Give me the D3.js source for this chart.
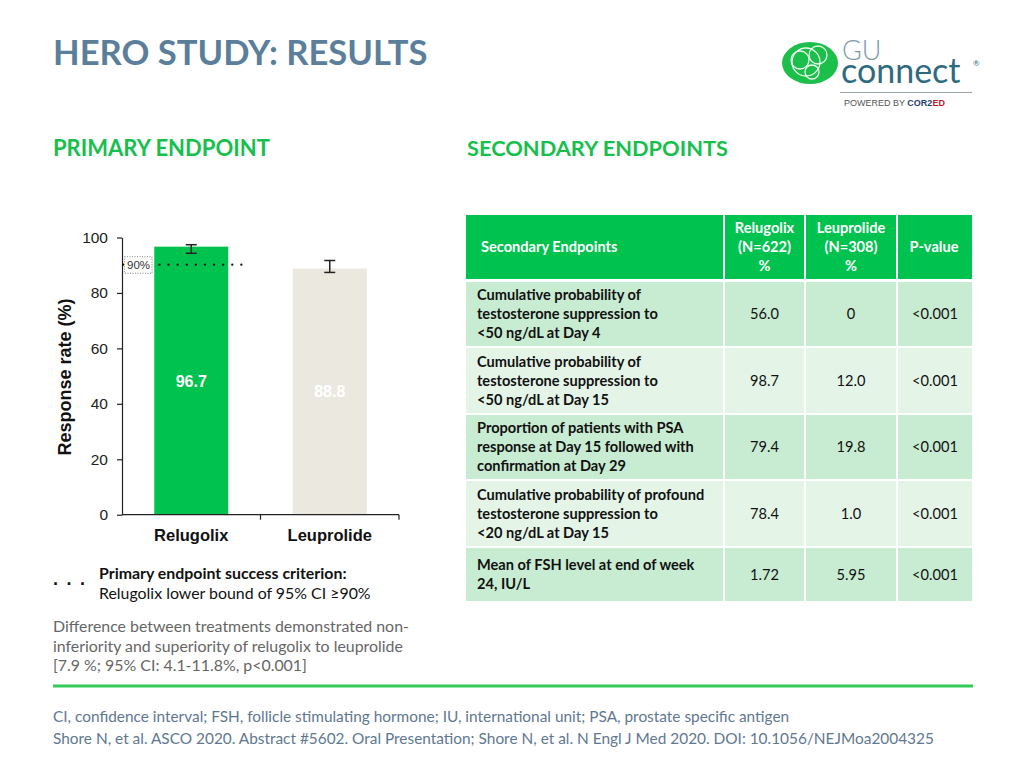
<!DOCTYPE html>
<html>
<head>
<meta charset="utf-8">
<script src="https://cdn.jsdelivr.net/npm/d3@7"></script>
<style>
  html, body { margin: 0; padding: 0; background: #ffffff; }
  svg { display: block; }
</style>
</head>
<body>
<svg id="chart" width="1024" height="768"></svg>
<script>
// ---------------- DATA ----------------
const categories = ["Relugolix", "Leuprolide"];
const responseRates = [96.7, 88.8];
const ciLower = [94.3, 87.4];
const ciUpper = [97.4, 91.7];
const valueLabels = ["96.7", "88.8"];
const yTicks = [0, 20, 40, 60, 80, 100];
const thresholdValue = 90;
const thresholdLabel = "90%";

const tableHeader = [["Secondary Endpoints"], ["Relugolix", "(N=622)", "%"], ["Leuprolide", "(N=308)", "%"], ["P-value"]];
const endpointLabels = [
  ["Cumulative probability of", "testosterone suppression to", "<50 ng/dL at Day 4"],
  ["Cumulative probability of", "testosterone suppression to", "<50 ng/dL at Day 15"],
  ["Proportion of patients with PSA", "response at Day 15 followed with", "confirmation at Day 29"],
  ["Cumulative probability of profound", "testosterone suppression to", "<20 ng/dL at Day 15"],
  ["Mean of FSH level at end of week", "24, IU/L"]
];
const relugolixValues = ["56.0", "98.7", "79.4", "78.4", "1.72"];
const leuprolideValues = ["0", "12.0", "19.8", "1.0", "5.95"];
const pValues = ["<0.001", "<0.001", "<0.001", "<0.001", "<0.001"];

// ---------------- STYLE ----------------
const GREEN = "#00c24f";
const BEIGE = "#ebe9df";
const TITLE_BLUE = "#5b7f9b";
const SANS = "Lato, 'Open Sans', sans-serif";
const ARIAL = "'Liberation Sans', Arial, sans-serif";

const svg = d3.select("#chart");

// ---------------- TITLES ----------------
svg.append("text").attr("x", 53).attr("y", 65)
  .attr("font-family", SANS).attr("font-weight", 700).attr("font-size", 34.6)
  .attr("fill", TITLE_BLUE).text("HERO STUDY: RESULTS");

svg.append("text").attr("x", 53).attr("y", 156)
  .attr("font-family", SANS).attr("font-weight", 700).attr("font-size", 22)
  .attr("fill", "#17c04c").text("PRIMARY ENDPOINT");
svg.append("text").attr("x", 467).attr("y", 156)
  .attr("font-family", SANS).attr("font-weight", 700).attr("font-size", 21.8)
  .attr("fill", "#17c04c").text("SECONDARY ENDPOINTS");

// ---------------- LOGO ----------------
const logo = svg.append("g");
logo.append("ellipse").attr("cx", 810).attr("cy", 63).attr("rx", 28).attr("ry", 21).attr("fill", "#1dbf4b");
[[800, 60, 9], [818, 55, 9], [812, 72, 7], [806, 62, 14]].forEach(c => {
  logo.append("circle").attr("cx", c[0]).attr("cy", c[1]).attr("r", c[2])
    .attr("fill", "none").attr("stroke", "#ffffff").attr("stroke-width", 1.3).attr("opacity", 0.9);
});
const brand = logo.append("text").attr("font-family", SANS);
brand.append("tspan").attr("x", 842).attr("y", 60).attr("font-weight", 300)
  .attr("font-size", 27).attr("fill", "#7d9aa9").text("GU");
brand.append("tspan").attr("x", 841).attr("y", 83).attr("font-weight", 400)
  .attr("font-size", 34).attr("fill", "#2f6b80").text("connect");
brand.append("tspan").attr("x", 973).attr("y", 66)
  .attr("font-size", 8).attr("fill", "#2f6b80").text("®");
logo.append("line").attr("x1", 840).attr("x2", 972).attr("y1", 92.5).attr("y2", 92.5)
  .attr("stroke", "#9aa3a8").attr("stroke-width", 1);
const pw = logo.append("text").attr("x", 844).attr("y", 106).attr("font-family", ARIAL).attr("font-size", 9);
pw.append("tspan").attr("fill", "#555").text("POWERED BY ");
pw.append("tspan").attr("fill", "#1f3f73").attr("font-weight", 700).text("COR2");
pw.append("tspan").attr("fill", "#c8192e").attr("font-weight", 700).text("ED");

// ---------------- BAR CHART ----------------
const y = d3.scaleLinear().domain([0, 100]).range([514.7, 237.5]);
const x = d3.scaleBand().domain(categories).range([122, 399]).paddingInner(0).paddingOuter(0);
const barW = x.bandwidth() * 0.534;
const colors = d3.scaleOrdinal().domain(categories).range([GREEN, BEIGE]);

const chart = svg.append("g");

// bars
chart.selectAll("rect.bar").data(categories).enter().append("rect")
  .attr("class", "bar")
  .attr("x", d => x(d) + (x.bandwidth() - barW) / 2)
  .attr("width", barW)
  .attr("y", (d, i) => y(responseRates[i]))
  .attr("height", (d, i) => y(0) - y(responseRates[i]))
  .attr("fill", d => colors(d));

// y axis
const yAxis = d3.axisLeft(y).tickValues(yTicks).tickSize(5).tickSizeOuter(0).tickPadding(9);
const yg = chart.append("g").attr("transform", "translate(122,0)").call(yAxis);
yg.select(".domain").attr("stroke", "#222").attr("stroke-width", 1.2);
yg.selectAll(".tick line").attr("stroke", "#222").attr("stroke-width", 1.2);
yg.selectAll(".tick text").attr("font-family", ARIAL).attr("font-size", 15.5).attr("fill", "#222");

// x axis
const xg = chart.append("g");
xg.append("line").attr("x1", 122).attr("x2", 399).attr("y1", y(0)).attr("y2", y(0))
  .attr("stroke", "#222").attr("stroke-width", 1.2);
const bounds = categories.map(c => x(c) + x.bandwidth());
xg.selectAll("line.xt").data(bounds).enter().append("line").attr("class", "xt")
  .attr("x1", d => d).attr("x2", d => d).attr("y1", y(0)).attr("y2", y(0) + 5)
  .attr("stroke", "#222").attr("stroke-width", 1.2);
xg.selectAll("text.xl").data(categories).enter().append("text").attr("class", "xl")
  .attr("x", d => x(d) + x.bandwidth() / 2).attr("y", 541)
  .attr("text-anchor", "middle").attr("font-family", ARIAL).attr("font-weight", 700)
  .attr("font-size", 16.5).attr("fill", "#111").text(d => d);

// y axis title
chart.append("text").attr("transform", "translate(71,377) rotate(-90)")
  .attr("text-anchor", "middle").attr("font-family", ARIAL).attr("font-weight", 700)
  .attr("font-size", 18).attr("fill", "#111").text("Response rate (%)");

// value labels
chart.selectAll("text.val").data(categories).enter().append("text").attr("class", "val")
  .attr("x", d => x(d) + x.bandwidth() / 2)
  .attr("y", (d, i) => i === 0 ? 387 : 397)
  .attr("text-anchor", "middle").attr("font-family", ARIAL).attr("font-weight", 700)
  .attr("font-size", 16).attr("fill", "#ffffff").text((d, i) => valueLabels[i]);

// error bars
const eb = chart.selectAll("g.eb").data(categories).enter().append("g").attr("class", "eb");
const cx = d => x(d) + x.bandwidth() / 2;
eb.append("line").attr("x1", cx).attr("x2", cx)
  .attr("y1", (d, i) => y(ciUpper[i])).attr("y2", (d, i) => y(ciLower[i]))
  .attr("stroke", "#222").attr("stroke-width", 1.5);
eb.append("line").attr("x1", d => cx(d) - 5.5).attr("x2", d => cx(d) + 5.5)
  .attr("y1", (d, i) => y(ciUpper[i])).attr("y2", (d, i) => y(ciUpper[i]))
  .attr("stroke", "#222").attr("stroke-width", 1.5);
eb.append("line").attr("x1", d => cx(d) - 5.5).attr("x2", d => cx(d) + 5.5)
  .attr("y1", (d, i) => y(ciLower[i])).attr("y2", (d, i) => y(ciLower[i]))
  .attr("stroke", "#222").attr("stroke-width", 1.5);

// threshold dotted line
chart.append("line").attr("x1", 123).attr("x2", 244)
  .attr("y1", y(thresholdValue) - 0.5).attr("y2", y(thresholdValue) - 0.5)
  .attr("stroke", "#111").attr("stroke-width", 2.2).attr("stroke-linecap", "round")
  .attr("stroke-dasharray", "0.1 9");
chart.append("rect").attr("x", 124.5).attr("y", y(thresholdValue) - 8.5).attr("width", 27.5).attr("height", 16.5)
  .attr("fill", "#ffffff").attr("stroke", "#666").attr("stroke-width", 0.8).attr("stroke-dasharray", "1 1.5");
chart.append("text").attr("x", 138.5).attr("y", y(thresholdValue) + 4)
  .attr("text-anchor", "middle").attr("font-family", ARIAL).attr("font-size", 11.5)
  .attr("fill", "#333").text(thresholdLabel);

// ---------------- NOTES ----------------
svg.append("text").attr("x", 53).attr("y", 585).attr("font-family", ARIAL).attr("font-weight", 700)
  .attr("font-size", 18).attr("letter-spacing", 8.5).attr("fill", "#111").text("...");
svg.append("text").attr("x", 99).attr("y", 579).attr("font-family", SANS).attr("font-weight", 700)
  .attr("font-size", 15.9).attr("fill", "#111").text("Primary endpoint success criterion:");
svg.append("text").attr("x", 99).attr("y", 599).attr("font-family", SANS)
  .attr("font-size", 15.9).attr("fill", "#111").text("Relugolix lower bound of 95% CI ≥90%");
["Difference between treatments demonstrated non-",
 "inferiority and superiority of relugolix to leuprolide",
 "[7.9 %; 95% CI: 4.1-11.8%, p<0.001]"].forEach((t, i) => {
  svg.append("text").attr("x", 53).attr("y", 632 + i * 19.5).attr("font-family", SANS)
    .attr("font-size", 15.9).attr("fill", "#666").text(t);
});

// ---------------- TABLE ----------------
const colX = [466, 725, 806, 898, 972];
const headerTop = 215, headerBottom = 279;
const rowTops = [282, 348, 415, 481, 548];
const rowBottoms = [346, 413, 479, 546, 601];
const rowFill = ["#c8ecd2", "#e4f5e8", "#c8ecd2", "#e4f5e8", "#c8ecd2"];
const tbl = svg.append("g");
const TFS = 14.6;

// header cells
for (let c = 0; c < 4; c++) {
  tbl.append("rect").attr("x", colX[c]).attr("y", headerTop)
    .attr("width", colX[c + 1] - colX[c] - (c < 3 ? 2 : 0)).attr("height", headerBottom - headerTop)
    .attr("fill", GREEN);
}
tableHeader.forEach((lines, c) => {
  const midY = (headerTop + headerBottom) / 2;
  const cxh = c === 0 ? 481 : (colX[c] + colX[c + 1] - 2) / 2;
  lines.forEach((t, k) => {
    tbl.append("text").attr("x", cxh)
      .attr("y", midY + (k - (lines.length - 1) / 2) * 19 + 5)
      .attr("text-anchor", c === 0 ? "start" : "middle")
      .attr("font-family", SANS).attr("font-weight", 700).attr("font-size", TFS)
      .attr("fill", "#ffffff").text(t);
  });
});

// body rows
endpointLabels.forEach((lines, r) => {
  for (let c = 0; c < 4; c++) {
    tbl.append("rect").attr("x", colX[c]).attr("y", rowTops[r])
      .attr("width", colX[c + 1] - colX[c] - (c < 3 ? 2 : 0)).attr("height", rowBottoms[r] - rowTops[r])
      .attr("fill", rowFill[r]);
  }
  const midY = (rowTops[r] + rowBottoms[r]) / 2;
  lines.forEach((t, k) => {
    tbl.append("text").attr("x", 477)
      .attr("y", midY + (k - (lines.length - 1) / 2) * 19 + 5)
      .attr("font-family", SANS).attr("font-weight", 700).attr("font-size", TFS)
      .attr("fill", "#111").text(t);
  });
  [relugolixValues[r], leuprolideValues[r], pValues[r]].forEach((v, k) => {
    const c = k + 1;
    tbl.append("text").attr("x", (colX[c] + colX[c + 1] - (c < 3 ? 2 : 0)) / 2)
      .attr("y", midY + 5).attr("text-anchor", "middle")
      .attr("font-family", SANS).attr("font-size", TFS).attr("fill", "#111").text(v);
  });
});

// ---------------- FOOTER ----------------
svg.append("rect").attr("x", 53).attr("y", 684.5).attr("width", 920).attr("height", 3).attr("fill", "#33cc5a");
svg.append("text").attr("x", 53).attr("y", 722).attr("font-family", SANS).attr("font-size", 15.4)
  .attr("fill", "#5f7891").text("CI, confidence interval; FSH, follicle stimulating hormone; IU, international unit; PSA, prostate specific antigen");
svg.append("text").attr("x", 53).attr("y", 744).attr("font-family", SANS).attr("font-size", 15.4)
  .attr("fill", "#5f7891").text("Shore N, et al. ASCO 2020. Abstract #5602. Oral Presentation; Shore N, et al. N Engl J Med 2020. DOI: 10.1056/NEJMoa2004325");
</script>
</body>
</html>
